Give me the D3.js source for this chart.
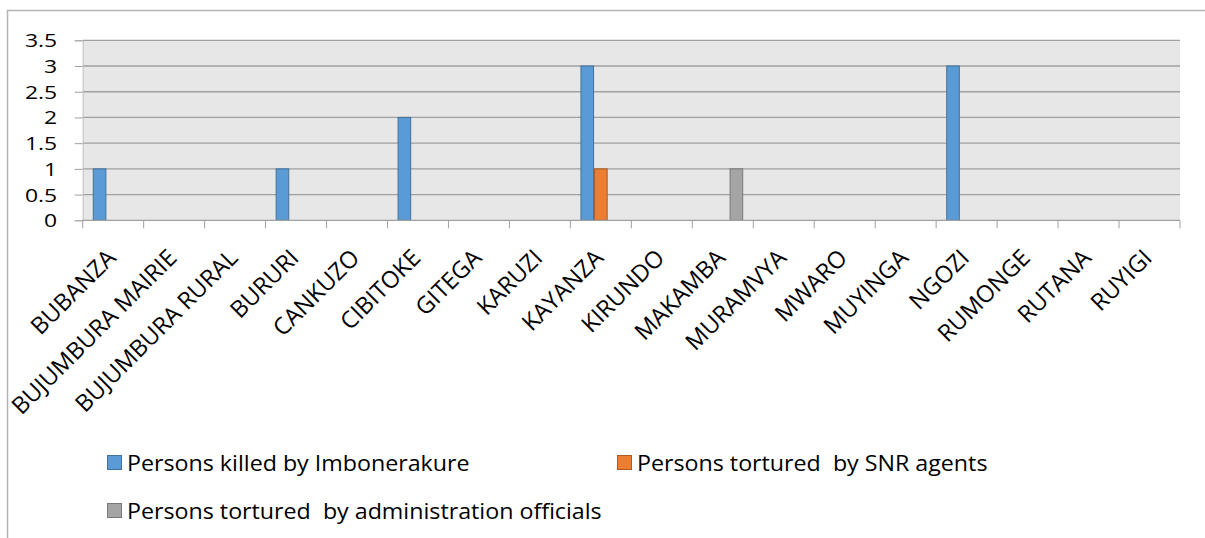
<!DOCTYPE html>
<html><head><meta charset="utf-8">
<script src="https://cdn.jsdelivr.net/npm/d3@7"></script>
<style>
html,body{margin:0;padding:0;background:#fff;}
svg{display:block;font-family:"Open Sans",sans-serif;}
</style></head>
<body>
<svg id="chart" width="1205" height="538"></svg>
<script>
const categories = ["BUBANZA","BUJUMBURA MAIRIE","BUJUMBURA RURAL","BURURI","CANKUZO","CIBITOKE","GITEGA","KARUZI","KAYANZA","KIRUNDO","MAKAMBA","MURAMVYA","MWARO","MUYINGA","NGOZI","RUMONGE","RUTANA","RUYIGI"];
const seriesNames = ["Persons killed by Imbonerakure","Persons tortured  by SNR agents","Persons tortured  by administration officials"];
const killedImbonerakure = [1,0,0,1,0,2,0,0,3,0,0,0,0,0,3,0,0,0];
const torturedSNR        = [0,0,0,0,0,0,0,0,1,0,0,0,0,0,0,0,0,0];
const torturedAdmin      = [0,0,0,0,0,0,0,0,0,0,1,0,0,0,0,0,0,0];
const yTicks = [0,0.5,1,1.5,2,2.5,3,3.5];

const fills = ["#5B9BD5","#ED7D31","#A5A5A5"];
const strokes = ["#41719C","#AE5A21","#787878"];
const seriesData = [killedImbonerakure, torturedSNR, torturedAdmin];

(function(){
const svg = d3.select("#chart");
const pL = 82.7, pR = 1180, pT = 40.3, pB = 220.3;

// outer chart border
svg.append("rect").attr("x",7.5).attr("y",10.5).attr("width",1220).attr("height",560)
  .attr("fill","#fff").attr("stroke","#b4b4b4").attr("stroke-width",1.5);

const x = d3.scaleBand().domain(categories).range([pL,pR]).padding(0);
const inner = d3.scaleBand().domain([0,1,2]).range([0,x.bandwidth()]).paddingInner(0).paddingOuter(0.74);
const y = d3.scaleLinear().domain([0,3.5]).range([pB,pT]);

// plot background
svg.append("rect").attr("x",pL).attr("y",pT).attr("width",pR-pL).attr("height",pB-pT).attr("fill","#e7e7e7");

// gridlines
svg.append("g").selectAll("line").data(yTicks.filter(d=>d>0)).join("line")
  .attr("x1",pL).attr("x2",pR).attr("y1",d=>y(d)).attr("y2",d=>y(d))
  .attr("stroke","#a0a0a0").attr("stroke-width",1.3);

// y axis
const yAxis = d3.axisLeft(y).tickValues(yTicks).tickSize(8).tickPadding(0).tickFormat(d=>String(d));
const gy = svg.append("g").attr("transform",`translate(${pL},0)`).call(yAxis);
gy.select(".domain").attr("stroke","#c4c4c4");
gy.selectAll(".tick line").attr("stroke","#a0a0a0");
gy.selectAll(".tick text").attr("x",0).attr("dy","0.35em")
  .attr("transform","translate(-25.5,0) scale(1.24,1)")
  .attr("font-size",18.5).attr("fill","#000").attr("font-family","Open Sans");

// bars
seriesData.forEach((vals,si)=>{
  svg.append("g").selectAll("rect").data(vals.map((v,i)=>({v,c:categories[i]})).filter(d=>d.v>0)).join("rect")
    .attr("x",d=>x(d.c)+inner(si)+0.5).attr("width",inner.bandwidth()-1)
    .attr("y",d=>y(d.v)).attr("height",d=>y(0)-y(d.v))
    .attr("fill",fills[si]).attr("stroke",strokes[si]).attr("stroke-width",1);
});

// x axis
const gx = svg.append("g").attr("transform",`translate(0,${pB})`);
gx.append("line").attr("x1",pL).attr("x2",pR).attr("stroke","#a0a0a0").attr("stroke-width",1.3);
const bounds = categories.map(c=>x(c)).concat([pR]);
gx.selectAll("line.tk").data(bounds).join("line").attr("class","tk")
  .attr("x1",d=>d).attr("x2",d=>d).attr("y1",0).attr("y2",8).attr("stroke","#a0a0a0");
gx.selectAll("text").data(categories).join("text")
  .attr("transform",d=>`translate(${x(d)+x.bandwidth()/2+4},39) rotate(-45)`)
  .attr("text-anchor","end").attr("font-size",23.5).attr("fill","#000").text(d=>d);

// legend
const legend = [
  {i:0, sx:107, sy:455, tx:127},
  {i:1, sx:617, sy:455, tx:637},
  {i:2, sx:107, sy:503, tx:127}
];
const lg = svg.append("g");
legend.forEach(l=>{
  lg.append("rect").attr("x",l.sx+0.5).attr("y",l.sy+0.5).attr("width",14).attr("height",14)
    .attr("fill",fills[l.i]).attr("stroke",strokes[l.i]);
  lg.append("text").attr("transform",`translate(${l.tx},${l.sy+16}) scale(1.056,1)`)
    .attr("font-size",22).attr("fill","#000")
    .attr("xml:space","preserve").style("white-space","pre").text(seriesNames[l.i]);
});
})();
</script>
</body></html>
